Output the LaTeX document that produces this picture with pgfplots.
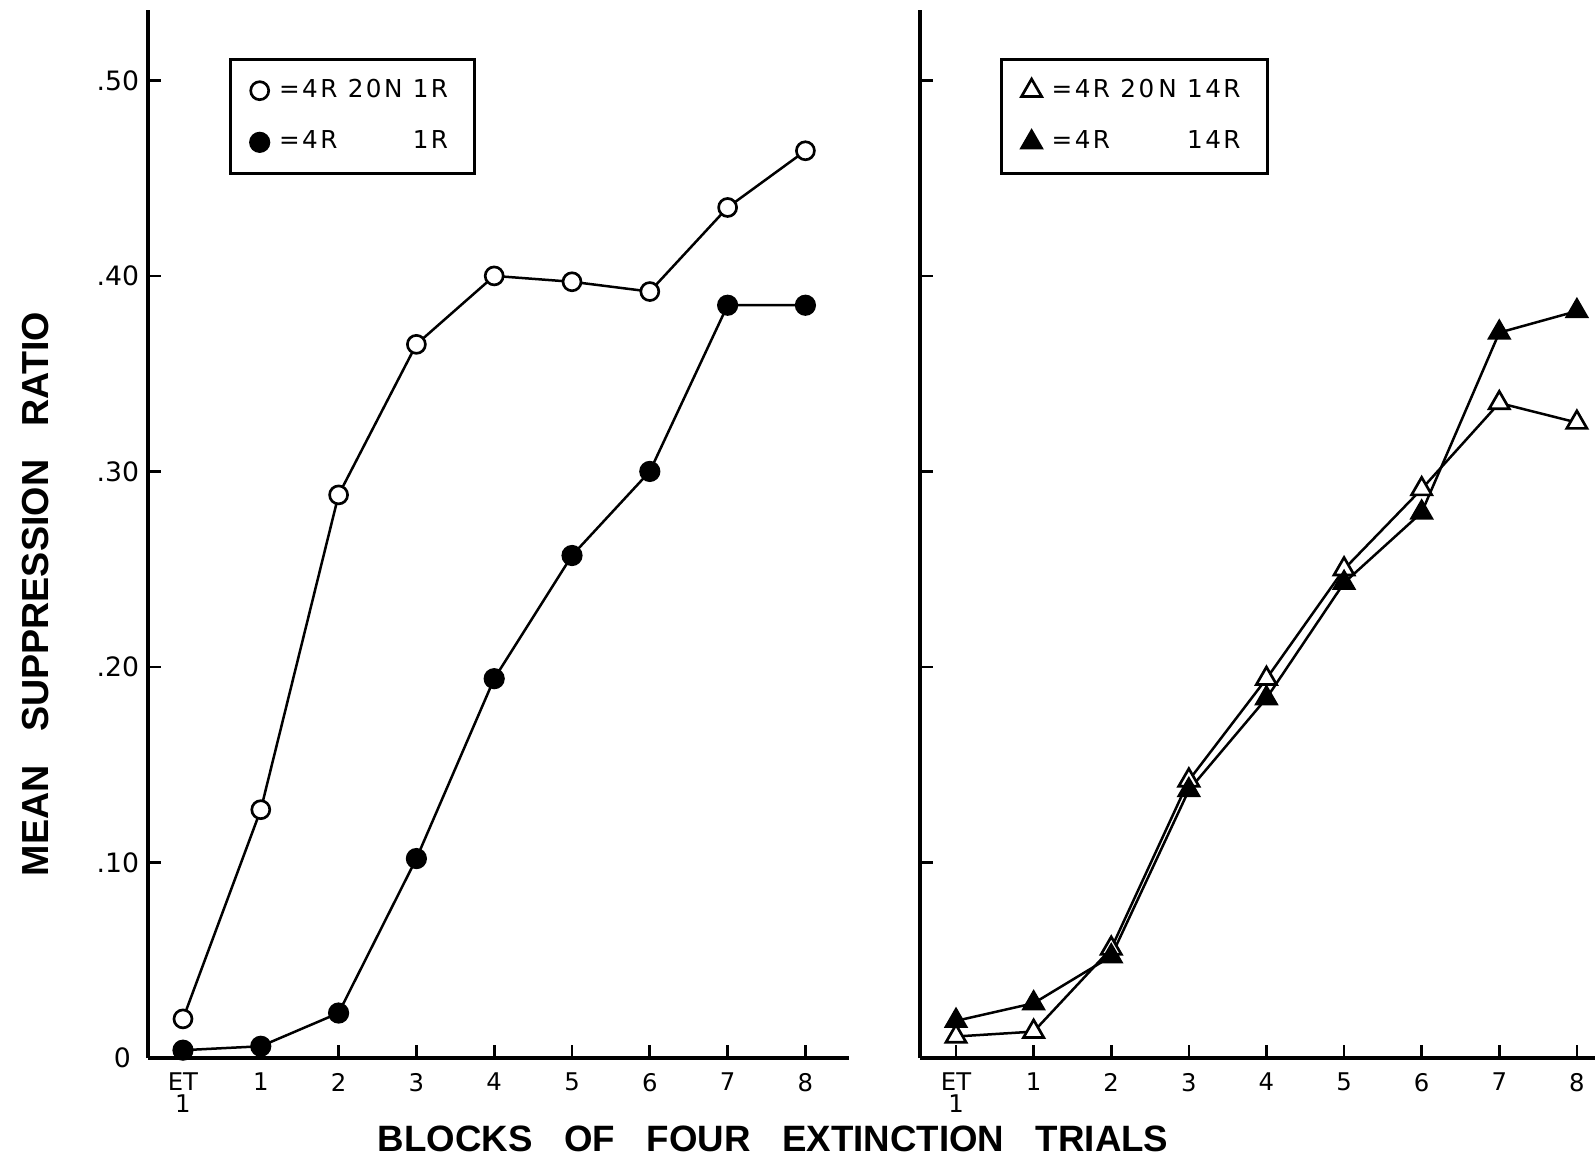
\documentclass[border=0pt]{standalone}
\usepackage{pgfplots}
\usepackage{pgfplotstable}
\pgfplotsset{compat=1.18}
\usepackage{fontspec}
\setmainfont{Liberation Sans}
\newfontfamily\tickfont{DejaVu Sans}
\newfontfamily\legfont[LetterSpace=10]{DejaVu Sans}

\pgfplotstableread{
x y
0 0.020
1 0.127
2 0.288
3 0.365
4 0.400
5 0.397
6 0.392
7 0.435
8 0.464
}\opencirc
\pgfplotstableread{
x y
0 0.004
1 0.006
2 0.023
3 0.102
4 0.194
5 0.257
6 0.300
7 0.385
8 0.385
}\fillcirc
\pgfplotstableread{
x y
0 0.011
1 0.0135
2 0.056
3 0.142
4 0.194
5 0.250
6 0.291
7 0.335
8 0.325
}\opentri
\pgfplotstableread{
x y
0 0.019
1 0.028
2 0.052
3 0.137
4 0.184
5 0.243
6 0.279
7 0.371
8 0.382
}\filltri

\pgfplotsset{
  panel/.style={
    scale only axis, clip=false,
    anchor=south west,
    height=314.4pt,
    axis x line*=bottom, axis y line*=left,
    axis line style={line width=1.2pt,-},
    ymin=0, ymax=0.536,
    xtick={0,1,2,3,4,5,6,7,8},
    xticklabels={{ET\\[-1pt]1},1,2,3,4,5,6,7,8},
    tick align=inside, major tick length=4pt,
    tick style={line width=0.8pt, black},
    xticklabel style={align=center, font=\tickfont\fontsize{7.3}{7.5}\selectfont, yshift=-1pt},
    yticklabel style={font=\tickfont\fontsize{8}{8.5}\selectfont, xshift=1pt},
    /pgf/number format/assume math mode=true,
    legend cell align=left,
    legend image code/.code={\draw[#1] plot[only marks] coordinates {(0pt,0pt)};},
    legend style={draw=black, line width=0.9pt, anchor=north west,
      font=\legfont\fontsize{7.4}{8}\selectfont,
      inner xsep=6pt, inner ysep=3.8pt, row sep=4.5pt,
      /tikz/every odd column/.append style={column sep=1pt}},
  },
  ser/.style={black, line width=0.75pt},
}

\begin{document}
\begin{tikzpicture}
\useasboundingbox (0pt,0pt) rectangle (478.5pt,348pt);
\begin{axis}[panel,
  at={(44.25pt,30.6pt)}, width=210.45pt,
  xmin=-0.456, xmax=8.56,
  ytick={0,0.1,0.2,0.3,0.4,0.5},
  yticklabels={0\hspace*{2.5pt},.10,.20,.30,.40,.50},
  legend style={at={(rel axis cs:0.116,0.954)}},
  ylabel={\bfseries\fontsize{11.3}{13}\selectfont MEAN\hspace*{10pt}SUPPRESSION\hspace*{10pt}RATIO},
  ylabel style={at={(rel axis cs:-0.1595,0.4427)}, anchor=center},
  xlabel={\bfseries\fontsize{11}{13}\selectfont BLOCKS\hspace*{9.5pt}OF\hspace*{9.5pt}FOUR\hspace*{9.5pt}EXTINCTION\hspace*{9.5pt}TRIALS},
  xlabel style={at={(rel axis cs:0.8917,-0.0773)}, anchor=center},
]
\addplot[ser, mark=*, mark size=2.7pt, mark options={fill=white, line width=0.8pt}] table[x=x,y=y] {\opencirc};
\addlegendentry{=4R 20N 1R}
\addplot[ser, mark=*, mark size=2.8pt, mark options={fill=black}] table[x=x,y=y] {\fillcirc};
\addlegendentry{=4R\phantom{ 20N} 1R}
\end{axis}
\begin{axis}[panel,
  at={(276pt,30.6pt)}, width=202.5pt,
  xmin=-0.464, xmax=8.234,
  ytick={0.1,0.2,0.3,0.4,0.5},
  yticklabels={},
  legend style={at={(rel axis cs:0.1185,0.954)}},
]
\addplot[ser, mark=triangle*, mark size=3.5pt, mark options={fill=white, line width=0.8pt}] table[x=x,y=y] {\opentri};
\addlegendentry{=4R 20\,N 14R}
\addplot[ser, mark=triangle*, mark size=3.5pt, mark options={fill=black}] table[x=x,y=y] {\filltri};
\addlegendentry{=4R\phantom{ 20\,N} 14R}
\end{axis}
\end{tikzpicture}
\end{document}
